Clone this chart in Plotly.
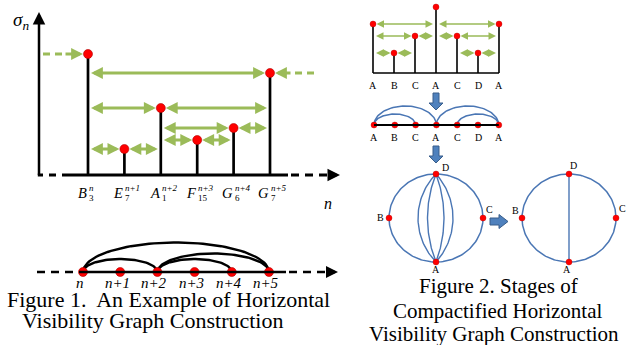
import numpy as np
import plotly.graph_objects as go

W, H = 632, 345

# ---------------- data ----------------
fig1_letters = ['B', 'E', 'A', 'F', 'G', 'G']
fig1_subs = ['3', '7', '1', '15', '6', '7']
fig1_sups = ['n', 'n+1', 'n+2', 'n+3', 'n+4', 'n+5']
fig1_sigma = [12.1, 2.6, 6.7, 3.5, 4.7, 10.2]
fig1_nodes = ['n', 'n+1', 'n+2', 'n+3', 'n+4', 'n+5']

fig2_labels = ['A', 'B', 'C', 'A', 'C', 'D', 'A']
fig2_sigma = [4.9, 2.0, 3.7, 6.6, 3.7, 2.0, 4.9]

circle_nodes = ['D', 'C', 'A', 'B']

caption1 = ['Figure 1.\u00a0 An Example of Horizontal', 'Visibility Graph Construction']
caption2 = ['Figure 2. Stages of', 'Compactified Horizontal', 'Visibility Graph Construction']

# ---------------- style ----------------
GREEN = '#9BBB59'
RED = '#FF0000'
RED_EDGE = '#B00000'
BLUE = '#4A76B4'
BLUE_FILL = '#4F81BD'
BLUE_EDGE = '#385D8A'
SERIF = 'Liberation Serif'


def hvg_edges(v):
    e = []
    for i in range(len(v)):
        for j in range(i + 1, len(v)):
            if all(v[k] < min(v[i], v[j]) for k in range(i + 1, j)):
                e.append((i, j))
    return e


def neighbours(v, i):
    left = next((j for j in range(i - 1, -1, -1) if v[j] > v[i]), None)
    right = next((j for j in range(i + 1, len(v)) if v[j] > v[i]), None)
    return left, right


# panel frames: (x origin px, x px/unit, y origin px, y px/unit upward)
frames = {
    2: (88, 36.4, 175, 10),     # figure 1 stems
    3: (83, 37.2, 272, 1),      # figure 1 arc graph
    4: (373, 21.0, 73, 10),     # figure 2 stems
    5: (374, 20.8, 125, 1),     # figure 2 arc graph
    6: (436, 1, 218, 1),        # circle 1
    7: (569, 1, 218, 1),        # circle 2
}

fig = go.Figure()
layout_axes = {}
layout_axes['xaxis'] = dict(range=[0, W], domain=[0, 1], visible=False, fixedrange=True)
layout_axes['yaxis'] = dict(range=[H, 0], domain=[0, 1], visible=False, fixedrange=True)
for k, (x0, sx, y0, sy) in frames.items():
    layout_axes[f'xaxis{k}'] = dict(range=[-x0 / sx, (W - x0) / sx], domain=[0, 1], visible=False,
                                    overlaying='x', anchor=f'y{k}', fixedrange=True)
    layout_axes[f'yaxis{k}'] = dict(range=[(y0 - H) / sy, y0 / sy], domain=[0, 1], visible=False,
                                    overlaying='y', anchor=f'x{k}', fixedrange=True)


def px2x(k, px):
    x0, sx, _, _ = frames[k]
    return (px - x0) / sx


shapes = []
ann = []


def text(x, y, s, size, xref='x', yref='y', italic=False, xanchor='center', **kw):
    if italic:
        s = f'<i>{s}</i>'
    ann.append(dict(x=x, y=y, xref=xref, yref=yref, text=s, showarrow=False,
                    font=dict(family=SERIF, size=size, color='black'), xanchor=xanchor,
                    yanchor='middle', **kw))


def arrow(x, y, ax, ay, xref, yref, color, width, size, both=False, standoff=0, startstandoff=0):
    ann.append(dict(x=x, y=y, ax=ax, ay=ay, xref=xref, yref=yref, axref=xref, ayref=yref,
                    text='', showarrow=True, arrowhead=2, startarrowhead=2,
                    arrowsize=size, startarrowsize=size, arrowwidth=width, arrowcolor=color,
                    arrowside='end+start' if both else 'end', standoff=standoff,
                    startstandoff=startstandoff))


def hline(x0, x1, y, xref, yref, color='black', width=3, dash='solid'):
    shapes.append(dict(type='line', x0=x0, x1=x1, y0=y, y1=y, xref=xref, yref=yref,
                       line=dict(color=color, width=width, dash=dash)))


def half_ellipse(a, b, h, n=60):
    t = np.linspace(0, np.pi, n)
    mid, half = (a + b) / 2, (b - a) / 2
    return list(mid - half * np.cos(t)), list(h * np.sin(t))


# ================= Figure 1: stems =================
sxs, sys_ = [], []
for i, v in enumerate(fig1_sigma):
    sxs += [i, i, None]
    sys_ += [0, v, None]
fig.add_trace(go.Scatter(x=sxs, y=sys_, mode='lines', line=dict(color='black', width=2.7),
                         xaxis='x2', yaxis='y2', hoverinfo='skip'))
fig.add_trace(go.Scatter(x=list(range(len(fig1_sigma))), y=fig1_sigma, mode='markers',
                         marker=dict(color=RED, size=9, line=dict(color=RED_EDGE, width=0.6)),
                         xaxis='x2', yaxis='y2', hoverinfo='skip'))

for i, v in enumerate(fig1_sigma):
    l, r = neighbours(fig1_sigma, i)
    for j in (l, r):
        if j is not None:
            arrow(i, v, j, v, 'x2', 'y2', GREEN, 2.8, 0.85, both=True, standoff=5, startstandoff=1.5)

# dashed arrows coming from outside the window
n1 = len(fig1_sigma)
hline(px2x(2, 43), px2x(2, 66), fig1_sigma[0], 'x2', 'y2', GREEN, 2.8, '7px,5px')
arrow(0, fig1_sigma[0], px2x(2, 64), fig1_sigma[0], 'x2', 'y2', GREEN, 2.8, 0.85, standoff=5)
hline(px2x(2, 295), px2x(2, 314), fig1_sigma[-1], 'x2', 'y2', GREEN, 2.8, '7px,5px')
arrow(n1 - 1, fig1_sigma[-1], px2x(2, 292), fig1_sigma[-1], 'x2', 'y2', GREEN, 2.8, 0.85, standoff=5)

# axes
arrow(39, 12, 39, 176.5, 'x', 'y', 'black', 2.5, 1.0)
hline(37.8, 43, 0, 'x', 'y2')
hline(49, 56, 0, 'x', 'y2')
hline(62, 288, 0, 'x', 'y2')
hline(291, 330, 0, 'x', 'y2', dash='8px,6px')
arrow(340, 0, 329, 0, 'x', 'y2', 'black', 2.5, 1.0)
text(21, 21, 'σ<sub>n</sub>', 19, italic=True)
text(328, 203, 'n', 16, italic=True)
text(21, -8, 'g', 22)

for i in range(n1):
    text(i, 193, fig1_letters[i], 14.5, xref='x2', italic=True, xanchor='right', xshift=1)
    text(i, 187.5, fig1_sups[i], 9, xref='x2', italic=True, xanchor='left', xshift=-1)
    text(i, 198, fig1_subs[i], 9, xref='x2', xanchor='left', xshift=-1)

# ================= Figure 1: arc graph =================
hline(px2x(3, 37), px2x(3, 80), 0, 'x3', 'y3', width=2.6, dash='8px,6px')
hline(px2x(3, 80), px2x(3, 286), 0, 'x3', 'y3', width=2.6)
hline(px2x(3, 289), px2x(3, 330), 0, 'x3', 'y3', width=2.6, dash='8px,6px')
arrow(px2x(3, 338), 0, px2x(3, 328), 0, 'x3', 'y3', 'black', 2.4, 1.0)

axs, ays = [], []
for i, j in hvg_edges(fig1_sigma):
    if j - i > 1:
        xs, ys = half_ellipse(i, j, 5.5 * (j - i) + 2)
        axs += xs + [None]
        ays += ys + [None]
fig.add_trace(go.Scatter(x=axs, y=ays, mode='lines', line=dict(color='black', width=2.4),
                         xaxis='x3', yaxis='y3', hoverinfo='skip'))
fig.add_trace(go.Scatter(x=list(range(n1)), y=[0] * n1, mode='markers',
                         marker=dict(color=RED, size=9, line=dict(color=RED_EDGE, width=0.6)),
                         xaxis='x3', yaxis='y3', hoverinfo='skip'))
for i, s in enumerate(fig1_nodes):
    text(i, 282.5, s, 15, xref='x3', italic=True, xshift=-3)

for k, line in enumerate(caption1):
    text([168, 152][k], [299.5, 320.5][k], line, 22)

# ================= Figure 2: stems =================
n2 = len(fig2_sigma)
sxs, sys_ = [], []
for i, v in enumerate(fig2_sigma):
    sxs += [i, i, None]
    sys_ += [0, v, None]
hline(0, n2 - 1, 0, 'x4', 'y4', width=1.6)
fig.add_trace(go.Scatter(x=sxs, y=sys_, mode='lines', line=dict(color='black', width=1.6),
                         xaxis='x4', yaxis='y4', hoverinfo='skip'))
fig.add_trace(go.Scatter(x=list(range(n2)), y=fig2_sigma, mode='markers',
                         marker=dict(color=RED, size=6, line=dict(color=RED_EDGE, width=0.4)),
                         xaxis='x4', yaxis='y4', hoverinfo='skip'))
for i, v in enumerate(fig2_sigma):
    l, r = neighbours(fig2_sigma, i)
    for j in (l, r):
        if j is not None:
            arrow(i, v, j, v, 'x4', 'y4', GREEN, 1.5, 1.0, both=True, standoff=3.5, startstandoff=1.5)
for i, s in enumerate(fig2_labels):
    text(i, 85, s, 10, xref='x4')

# ================= Figure 2: arc graph =================
hline(0, n2 - 1, 0, 'x5', 'y5', width=2)
axs, ays = [], []
for i, j in hvg_edges(fig2_sigma):
    if j - i > 1:
        xs, ys = half_ellipse(i, j, 8 * (j - i) - 5)
        axs += xs + [None]
        ays += ys + [None]
fig.add_trace(go.Scatter(x=axs, y=ays, mode='lines', line=dict(color=BLUE, width=1.5),
                         xaxis='x5', yaxis='y5', hoverinfo='skip'))
fig.add_trace(go.Scatter(x=list(range(n2)), y=[0] * n2, mode='markers',
                         marker=dict(color=RED, size=6, line=dict(color=RED_EDGE, width=0.4)),
                         xaxis='x5', yaxis='y5', hoverinfo='skip'))
for i, s in enumerate(fig2_labels):
    text(i, 137, s, 10, xref='x5')


# block arrows (pixel frame)
def down_arrow(cx, top, bottom):
    mid = bottom - 7
    return (f'M {cx-3},{top} L {cx+3},{top} L {cx+3},{mid} L {cx+7},{mid} L {cx},{bottom} '
            f'L {cx-7},{mid} L {cx-3},{mid} Z')


for top, bot in [(93, 110), (146, 163)]:
    shapes.append(dict(type='path', path=down_arrow(436, top, bot), xref='x', yref='y',
                       fillcolor=BLUE_FILL, line=dict(color=BLUE_EDGE, width=1)))
shapes.append(dict(type='path', xref='x', yref='y', fillcolor=BLUE_FILL,
                   line=dict(color=BLUE_EDGE, width=1),
                   path='M 490,218 L 499,218 L 499,214.5 L 508,221.5 L 499,228.5 L 499,225 L 490,225 Z'))

# ================= circles =================
RX, RY = 47, 44
t = np.linspace(0, 2 * np.pi, 200)
ang = [np.pi / 2 - k * np.pi / 2 for k in range(len(circle_nodes))]
node_x = [RX * np.cos(a) for a in ang]
node_y = [RY * np.sin(a) for a in ang]
iD, iA = circle_nodes.index('D'), circle_nodes.index('A')

label_off = {
    6: {'D': (9, -7), 'C': (6, -9), 'A': (0, 7), 'B': (-9, -1)},
    7: {'D': (4, -9), 'C': (6, -10), 'A': (-2, 7), 'B': (-7, -8)},
}

for k in (6, 7):
    fig.add_trace(go.Scatter(x=list(RX * np.cos(t)), y=list(RY * np.sin(t)), mode='lines',
                             line=dict(color=BLUE, width=1.5), xaxis=f'x{k}', yaxis=f'y{k}',
                             hoverinfo='skip'))
    if k == 6:
        lx, ly = [], []
        half = (node_y[iD] - node_y[iA]) / 2
        for d in [-18, -8.5, 8, 17]:
            r = (half ** 2 + d ** 2) / (2 * abs(d))
            c = np.sign(d) * (abs(d) - r)
            al = np.arcsin(half / r)
            th = np.linspace(-al, al, 60)
            lx += list(c + np.sign(d) * r * np.cos(th)) + [None]
            ly += list(r * np.sin(th)) + [None]
        fig.add_trace(go.Scatter(x=lx, y=ly, mode='lines', line=dict(color=BLUE, width=1.4),
                                 xaxis='x6', yaxis='y6', hoverinfo='skip'))
    else:
        fig.add_trace(go.Scatter(x=[node_x[iD], node_x[iA]], y=[node_y[iD], node_y[iA]],
                                 mode='lines', line=dict(color=BLUE, width=1.4),
                                 xaxis='x7', yaxis='y7', hoverinfo='skip'))
    fig.add_trace(go.Scatter(x=node_x, y=node_y, mode='markers',
                             marker=dict(color=RED, size=6, line=dict(color=RED_EDGE, width=0.4)),
                             xaxis=f'x{k}', yaxis=f'y{k}', hoverinfo='skip'))
    for nm, xx, yy in zip(circle_nodes, node_x, node_y):
        dx, dy = label_off[k][nm]
        text(xx, yy, nm, 10, xref=f'x{k}', yref=f'y{k}', xshift=dx, yshift=-dy)

for k, line in enumerate(caption2):
    text([498, 498, 494][k], [285.5, 310.5, 333.5][k], line, 21)

fig.update_layout(width=W, height=H, autosize=False, margin=dict(l=0, r=0, t=0, b=0),
                  paper_bgcolor='white', plot_bgcolor='rgba(0,0,0,0)', showlegend=False,
                  shapes=shapes, annotations=ann, **layout_axes)
fig.write_html('out.html', config={'displayModeBar': False},
               post_script="document.body.style.margin='0';document.documentElement.style.margin='0';"
                           "document.body.style.overflow='hidden';")
